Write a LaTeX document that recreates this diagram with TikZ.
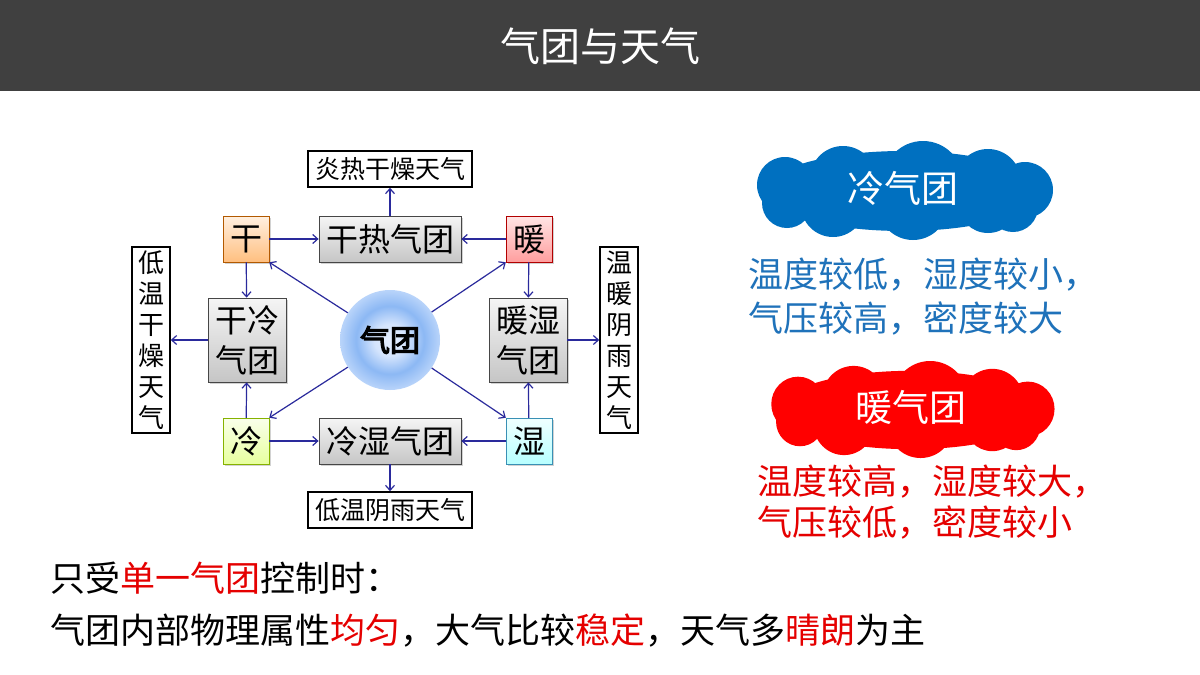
\documentclass[tikz,border=0pt]{standalone}
\usepackage{fontspec}
\setmainfont{Noto Sans CJK SC}
\newfontfamily\cjkbold[FakeBold=4]{Noto Sans CJK SC}
\usetikzlibrary{arrows.meta,shadows}
\definecolor{titlebar}{HTML}{404040}
\definecolor{arrowc}{HTML}{2A2A9C}
\definecolor{cloudblue}{HTML}{0070C0}
\definecolor{txtblue}{HTML}{1F72BA}
\definecolor{txtred}{HTML}{E50000}
\definecolor{sphA}{HTML}{E6EFFF}
\definecolor{sphB}{HTML}{8CB8F4}
\definecolor{sphC}{HTML}{B9D4FA}
\pgfdeclareradialshading{sphere}{\pgfpoint{0bp}{0bp}}{color(0bp)=(sphA); color(8bp)=(sphA!80!sphB); color(17bp)=(sphB); color(25bp)=(sphC); color(50bp)=(sphC)}
\newcommand\puffcloud{%
  (0,0) ellipse [x radius=138, y radius=40]
  (20,-10) circle [radius=40]
  (-60,-12) circle [radius=33]
  (85,-9) circle [radius=33]
  (-118,-6) circle [radius=28]
  (-116,12) circle [radius=25]
  (122,-1) circle [radius=28]
  (110,16) circle [radius=25]
  (-70,14) circle [radius=32]
  (10,14) circle [radius=35]
  (85,12) circle [radius=30]}
\tikzset{
  gbox/.style={draw=gray!55!black, line width=0.8pt, top color=gray!8, bottom color=gray!45, inner sep=0pt, drop shadow={shadow xshift=1.5pt, shadow yshift=-1.5pt, opacity=0.35}},
  cbox/.style={draw=#1!70!black, line width=0.5pt, inner sep=0pt, minimum width=46pt, minimum height=46pt, font=\fontsize{32}{32}\selectfont, drop shadow={shadow xshift=1.5pt, shadow yshift=-1.5pt, opacity=0.35}},
  wbox/.style={draw=black, line width=1.6pt, fill=white, inner sep=0pt},
  arr/.style={draw=arrowc, line width=1.2pt, -{Straight Barb[length=5pt,width=9pt,line width=1.2pt]}},
  body/.style={anchor=base west, inner sep=0pt, font=\fontsize{35}{35}\selectfont},
  cloudtext/.style={text=white, font=\fontsize{37}{37}\selectfont},
}
\begin{document}
\begin{tikzpicture}[x=1pt,y=-1pt]
\useasboundingbox (0,0) rectangle (1200,675);
\fill[white] (0,0) rectangle (1200,675);
% title bar
\fill[titlebar] (0,0) rectangle (1200,91);
\node[text=white, font=\fontsize{40}{40}\selectfont] (title) at (600,46) {气团与天气};

% weather boxes
\node[wbox, minimum width=164pt, minimum height=36pt, font=\fontsize{25}{25}\selectfont] (yr) at (390,169) {炎热干燥天气};
\node[wbox, minimum width=164pt, minimum height=36pt, font=\fontsize{25}{25}\selectfont] (dy) at (390,510) {低温阴雨天气};
\node[wbox, minimum width=38pt, minimum height=186pt, align=center, font=\fontsize{26}{31}\selectfont] (dg) at (151,340) {低\\温\\干\\燥\\天\\气};
\node[wbox, minimum width=38pt, minimum height=186pt, align=center, font=\fontsize{26}{31}\selectfont] (wn) at (619,340) {温\\暖\\阴\\雨\\天\\气};

% small colored boxes
\node[cbox=orange, top color=orange!12, bottom color=orange!50] (gan) at (246,239) {干};
\node[cbox=red, top color=red!10, bottom color=red!38] (nuan) at (529,239) {暖};
\node[cbox=lime, top color=lime!8, bottom color=lime!38] (leng) at (246,441) {冷};
\node[cbox=cyan, top color=cyan!6, bottom color=cyan!28] (shi) at (529,441) {湿};

% gray air-mass boxes
\node[gbox, minimum width=142pt, minimum height=46pt, font=\fontsize{32}{32}\selectfont] (gr) at (390,239) {干热气团};
\node[gbox, minimum width=142pt, minimum height=46pt, font=\fontsize{32}{32}\selectfont] (ls) at (390,441) {冷湿气团};
\node[gbox, minimum width=78pt, minimum height=84pt, align=center, font=\fontsize{32}{40}\selectfont] (gl) at (247,340) {干冷\\气团};
\node[gbox, minimum width=78pt, minimum height=84pt, align=center, font=\fontsize{32}{40}\selectfont] (ns) at (528,340) {暖湿\\气团};

% sphere
\node[circle, minimum size=100pt, inner sep=0pt, shading=sphere, font=\cjkbold\fontsize{30}{30}\selectfont] (qt) at (390,340) {气团};

% arrows
\draw[arr] (gan) -- (gr);
\draw[arr] (nuan) -- (gr);
\draw[arr] (gr) -- (yr);
\draw[arr] (gan) -- (gl);
\draw[arr] (leng) -- (gl);
\draw[arr] (gl) -- (dg);
\draw[arr] (leng) -- (ls);
\draw[arr] (shi) -- (ls);
\draw[arr] (ls) -- (dy);
\draw[arr] (nuan) -- (ns);
\draw[arr] (shi) -- (ns);
\draw[arr] (ns) -- (wn);
\draw[arr] (qt) -- (gan.south east);
\draw[arr] (qt) -- (nuan.south west);
\draw[arr] (qt) -- (leng.north east);
\draw[arr] (qt) -- (shi.north west);

% clouds
\begin{scope}[shift={(903,191)}]
  \fill[cloudblue] \puffcloud;
\end{scope}
\node[cloudtext] (c1t) at (903,188) {冷气团};
\begin{scope}[shift={(911,410)}, xscale=0.957, yscale=0.98]
  \fill[red] \puffcloud;
\end{scope}
\node[cloudtext] (c2t) at (911,407) {暖气团};

% cloud descriptions
\node[body, text=txtblue] (b1) at (748,287) {温度较低，湿度较小，};
\node[body, text=txtblue] (b2) at (748,331) {气压较高，密度较大};
\node[body, text=txtred] (r1) at (757,494) {温度较高，湿度较大，};
\node[body, text=txtred] (r2) at (757,535) {气压较低，密度较小};

% bottom text
\node[body] (l1) at (50,591) {只受\textcolor{txtred}{单一气团}控制时：};
\node[body] (l2) at (50,643) {气团内部物理属性\textcolor{txtred}{均匀}，大气比较\textcolor{txtred}{稳定}，天气多\textcolor{txtred}{晴朗}为主};
\end{tikzpicture}
\end{document}
